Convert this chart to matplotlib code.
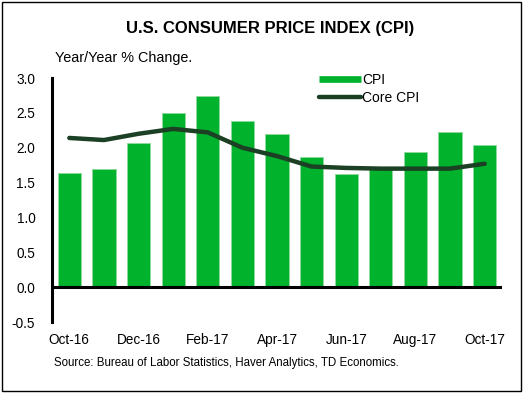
import matplotlib
matplotlib.use("Agg")
import matplotlib.pyplot as plt
from matplotlib.patches import Rectangle
from matplotlib.lines import Line2D
import numpy as np

plt.rcParams['font.family'] = ['Liberation Sans', 'DejaVu Sans']

months = ["Oct-16", "Nov-16", "Dec-16", "Jan-17", "Feb-17", "Mar-17", "Apr-17",
          "May-17", "Jun-17", "Jul-17", "Aug-17", "Sep-17", "Oct-17"]
cpi = [1.64, 1.69, 2.07, 2.50, 2.74, 2.38, 2.20, 1.87, 1.63, 1.70, 1.94, 2.23, 2.04]
core_cpi = [2.14, 2.11, 2.20, 2.27, 2.22, 2.00, 1.88, 1.73, 1.71, 1.70, 1.70, 1.70, 1.77]
yticks = [-0.5, 0.0, 0.5, 1.0, 1.5, 2.0, 2.5, 3.0]

BAR_C = '#00B22C'
LINE_C = '#1B4024'

fig = plt.figure(figsize=(5.25, 3.95), dpi=100)
fig.patches.append(Rectangle((1.5/525, 1 - 391/395), 519/525, 389.5/395,
                             transform=fig.transFigure, fill=False,
                             edgecolor='black', linewidth=1.0))

ax = fig.add_axes([52/525, 1 - 322/395, 450/525, 244/395])
x = np.arange(len(months))
ax.bar(x, cpi, width=0.67, color=BAR_C, edgecolor='#8ED89C', linewidth=0.7,
       label='CPI', zorder=2)
ax.plot(x, core_cpi, color=LINE_C, linewidth=3.2, solid_capstyle='round',
        label='Core CPI', zorder=3)

ax.set_xlim(-0.5, len(months) - 0.5)
ax.set_ylim(-0.5, 3.0)
ax.set_yticks(yticks)
ax.set_yticklabels([f"{v:.1f}" for v in yticks], fontsize=9.8)
ax.set_xticks(x[::2])
ax.set_xticklabels(months[::2], fontsize=9.8)
ax.tick_params(length=0, pad=8)
ax.tick_params(axis='y', pad=12)
for s in ['top', 'right', 'bottom']:
    ax.spines[s].set_visible(False)
ax.spines['left'].set_linewidth(2.2)
ax.axhline(0, color='black', linewidth=2.2, zorder=4)

handles = [Line2D([0], [0], color=BAR_C, linewidth=4.8, solid_capstyle='butt'),
           Line2D([0], [0], color=LINE_C, linewidth=3.2, solid_capstyle='round')]
fig.legend(handles, ['CPI', 'Core CPI'], loc='upper left',
           bbox_to_anchor=(312/525, 1 - 66/395), frameon=False, fontsize=10,
           handlelength=3.0, handletextpad=0.1, labelspacing=0.3, borderpad=0)

fig.text(270/525, 1 - 29/395, "U.S. CONSUMER PRICE INDEX (CPI)", ha='center',
         va='center', fontsize=12, fontweight='bold')
fig.text(55/525, 1 - 58/395, "Year/Year % Change.", ha='left', va='center',
         fontsize=10.4)
fig.text(54/525, 1 - 363/395,
         "Source: Bureau of Labor Statistics, Haver Analytics, TD Economics.",
         ha='left', va='center', fontsize=8.3)

fig.savefig("out.png", dpi=100)
